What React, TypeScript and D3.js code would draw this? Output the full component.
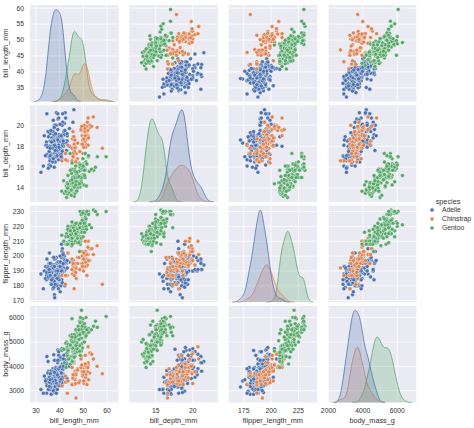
import React, { useEffect, useRef } from 'react';
import * as d3 from 'd3';

// columns of every row: bill_length_mm, bill_depth_mm, flipper_length_mm, body_mass_g
const variables = ['bill_length_mm', 'bill_depth_mm', 'flipper_length_mm', 'body_mass_g'];
const speciesNames = ['Adelie', 'Chinstrap', 'Gentoo'];
const speciesColors = ['#4C72B0', '#DD8452', '#55A868'];

const adelie: number[][] = [
  [39.1,18.7,181,3750],[39.5,17.4,186,3800],[40.3,18,195,3250],[36.7,19.3,193,3450],[39.3,20.6,190,3650],
  [38.9,17.8,181,3625],[39.2,19.6,195,4675],[34.1,18.1,193,3475],[42,20.2,190,4250],[37.8,17.1,186,3300],
  [37.8,17.3,180,3700],[41.1,17.6,182,3200],[38.6,21.2,191,3800],[34.6,21.1,198,4400],[36.6,17.8,185,3700],
  [38.7,19,195,3450],[42.5,20.7,197,4500],[34.4,18.4,184,3325],[46,21.5,194,4200],[37.8,18.3,174,3400],
  [37.7,18.7,180,3600],[35.9,19.2,189,3800],[38.2,18.1,185,3950],[38.8,17.2,180,3800],[35.3,18.9,187,3800],
  [40.6,18.6,183,3550],[40.5,17.9,187,3200],[37.9,18.6,172,3150],[40.5,18.9,180,3950],[39.5,16.7,178,3250],
  [37.2,18.1,178,3900],[39.5,17.8,188,3300],[40.9,18.9,184,3900],[36.4,17,195,3325],[39.2,21.1,196,4150],
  [38.8,20,190,3950],[42.2,18.5,180,3550],[37.6,19.3,181,3300],[39.8,19.1,184,4650],[36.5,18,182,3150],
  [40.8,18.4,195,3900],[36,18.5,186,3100],[44.1,19.7,196,4400],[37,16.9,185,3000],[39.6,18.8,190,4600],
  [41.1,19,182,3425],[37.5,18.9,179,2975],[36,17.9,190,3450],[42.3,21.2,191,4150],[39.6,17.7,186,3500],
  [40.1,18.9,188,4300],[35,17.9,190,3450],[42,19.5,200,4050],[34.5,18.1,187,2900],[41.4,18.6,191,3700],
  [39,17.5,186,3550],[40.6,18.8,193,3800],[36.5,16.6,181,2850],[37.6,19.1,194,3750],[35.7,16.9,185,3150],
  [41.3,21.1,195,4400],[37.6,17,185,3600],[41.1,18.2,192,4050],[36.4,17.1,184,2850],[41.6,18,192,3950],
  [35.5,16.2,195,3350],[41.1,19.1,188,4100],[35.9,16.6,190,3050],[41.8,19.4,198,4450],[33.5,19,190,3600],
  [39.7,18.4,190,3900],[39.6,17.2,196,3550],[45.8,18.9,197,4150],[35.5,17.5,190,3700],[42.8,18.5,195,4250],
  [40.9,16.8,191,3700],[37.2,19.4,184,3900],[36.2,16.1,187,3550],[42.1,19.1,195,4000],[34.6,17.2,189,3200],
  [42.9,17.6,196,4700],[36.7,18.8,187,3800],[35.1,19.4,193,4200],[37.3,17.8,191,3350],[41.3,20.3,194,3550],
  [36.3,19.5,190,3800],[36.9,18.6,189,3500],[38.3,19.2,189,3950],[38.9,18.8,190,3600],[35.7,18,202,3550],
  [41.1,18.1,205,4300],[34,17.1,185,3400],[39.6,18.1,186,4450],[36.2,17.3,187,3300],[40.8,18.9,208,4300],
  [38.1,18.6,190,3700],[40.3,18.5,196,4350],[33.1,16.1,178,2900],[43.2,18.5,192,4100],[35,17.9,192,3725],
  [41,20,203,4725],[37.7,16,183,3075],[37.8,20,190,4250],[37.9,18.6,193,2925],[39.7,18.9,184,3550],
  [38.6,17.2,199,3750],[38.2,20,190,3900],[38.1,17,181,3175],[43.2,19,197,4775],[38.1,16.5,198,3825],
  [45.6,20.3,191,4600],[39.7,17.7,193,3200],[42.2,19.5,197,4275],[39.6,20.7,191,3900],[42.7,18.3,196,4075],
  [38.6,17,188,2900],[37.3,20.5,199,3775],[35.7,17,189,3350],[41.1,18.6,189,3325],[36.2,17.2,187,3150],
  [37.7,19.8,198,3500],[40.2,17,176,3450],[41.4,18.5,202,3875],[35.2,15.9,186,3050],[40.6,19,199,4000],
  [38.8,17.6,191,3275],[41.5,18.3,195,4300],[39,17.1,191,3050],[44.1,18,210,4000],[38.5,17.9,190,3325],
  [43.1,19.2,197,3500],[36.8,18.5,193,3500],[37.5,18.5,199,4475],[38.1,17.6,187,3425],[41.1,17.5,190,3900],
  [35.6,17.5,191,3175],[40.2,20.1,200,3975],[37,16.5,185,3400],[39.7,17.9,193,4250],[40.2,17.1,193,3400],
  [40.6,17.2,187,3475],[32.1,15.5,188,3050],[40.7,17,190,3725],[37.3,16.8,192,3000],[39,18.7,185,3650],
  [39.2,18.6,190,4250],[36.6,18.4,184,3475],[36,17.8,195,3450],[37.8,18.1,193,3750],[36,17.1,187,3700],
  [41.5,18.5,201,4000],
];

const chinstrap: number[][] = [
  [46.5,17.9,192,3500],[50,19.5,196,3900],[51.3,19.2,193,3650],[45.4,18.7,188,3525],[52.7,19.8,197,3725],
  [45.2,17.8,198,3950],[46.1,18.2,178,3250],[51.3,18.2,197,3750],[46,18.9,195,4150],[51.3,19.9,198,3700],
  [46.6,17.8,193,3800],[51.7,20.3,194,3775],[47,17.3,185,3700],[52,18.1,201,4050],[45.9,17.1,190,3575],
  [50.5,19.6,201,4050],[50.3,20,197,3300],[58,17.8,181,3700],[46.4,18.6,190,3450],[49.2,18.2,195,4400],
  [42.4,17.3,181,3600],[48.5,17.5,191,3400],[43.2,16.6,187,2900],[50.6,19.4,193,3800],[46.7,17.9,195,3300],
  [52,19,197,4150],[50.5,18.4,200,3400],[49.5,19,200,3800],[46.4,17.8,191,3700],[52.8,20,205,4550],
  [40.9,16.6,187,3200],[54.2,20.8,201,4300],[42.5,16.7,187,3350],[51,18.8,203,4100],[49.7,18.6,195,3600],
  [47.5,16.8,199,3900],[47.6,18.3,195,3850],[52,20.7,210,4800],[46.9,16.6,192,2700],[53.5,19.9,205,4500],
  [49,19.5,210,3950],[46.2,17.5,187,3650],[50.9,19.1,196,3550],[45.5,17,196,3500],[50.9,17.9,196,3675],
  [50.8,18.5,201,4450],[50.1,17.9,190,3400],[49,19.6,212,4300],[51.5,18.7,187,3250],[49.8,17.3,198,3675],
  [48.1,16.4,199,3325],[51.4,19,201,3950],[45.7,17.3,193,3600],[50.7,19.7,203,4050],[42.5,17.3,187,3350],
  [52.2,18.8,197,3450],[45.2,16.6,191,3250],[49.3,19.9,203,4050],[50.2,18.8,202,3800],[45.6,19.4,194,3525],
  [51.9,19.5,206,3950],[46.8,16.5,189,3650],[45.7,17,195,3650],[55.8,19.8,207,4000],[43.5,18.1,202,3400],
  [49.6,18.2,193,3775],[50.8,19,210,4100],[50.2,18.7,198,3775],
];

const gentoo: number[][] = [
  [46.1,13.2,211,4500],[50,16.3,230,5700],[48.7,14.1,210,4450],[50,15.2,218,5700],[47.6,14.5,215,5400],
  [46.5,13.5,210,4550],[45.4,14.6,211,4800],[46.7,15.3,219,5200],[43.3,13.4,209,4400],[46.8,15.4,215,5150],
  [40.9,13.7,214,4650],[49,16.1,216,5550],[45.5,13.7,214,4650],[48.4,14.6,213,5850],[45.8,14.6,210,4200],
  [49.3,15.7,217,5850],[42,13.5,210,4150],[49.2,15.2,221,6300],[46.2,14.5,209,4800],[48.7,15.1,222,5350],
  [50.2,14.3,218,5700],[45.1,14.5,215,5000],[46.5,14.5,213,4400],[46.3,15.8,215,5050],[42.9,13.1,215,5000],
  [46.1,15.1,215,5100],[44.5,14.3,216,4100],[47.8,15,215,5650],[48.2,14.3,210,4600],[50,15.3,220,5550],
  [47.3,15.3,222,5250],[42.8,14.2,209,4700],[45.1,14.5,207,5050],[59.6,17,230,6050],[49.1,14.8,220,5150],
  [48.4,16.3,220,5400],[42.6,13.7,213,4950],[44.4,17.3,219,5250],[44,13.6,208,4350],[48.7,15.7,208,5350],
  [42.7,13.7,208,3950],[49.6,16,225,5700],[45.3,13.7,210,4300],[49.6,15,216,4750],[50.5,15.9,222,5550],
  [43.6,13.9,217,4900],[45.5,13.9,210,4200],[50.5,15.9,225,5400],[44.9,13.3,213,5100],[45.2,15.8,215,5300],
  [46.6,14.2,210,4850],[48.5,14.1,220,5300],[45.1,14.4,210,4400],[50.1,15,225,5000],[46.5,14.4,217,4900],
  [45,15.4,220,5050],[43.8,13.9,208,4300],[45.5,15,220,5000],[43.2,14.5,208,4450],[50.4,15.3,224,5550],
  [45.3,13.8,208,4200],[46.2,14.9,221,5300],[45.7,13.9,214,4400],[54.3,15.7,231,5650],[45.8,14.2,219,4700],
  [49.8,16.8,230,5700],[46.2,14.4,214,4650],[49.5,16.2,229,5800],[43.5,14.2,220,4700],[50.7,15,223,5550],
  [47.7,15,216,4750],[46.4,15.6,221,5000],[48.2,15.6,221,5100],[46.5,14.8,217,5200],[46.4,15,216,4700],
  [48.6,16,230,5800],[47.5,14.2,209,4600],[51.1,16.3,220,6000],[45.2,13.8,215,4750],[45.2,16.4,223,5950],
  [49.1,14.5,212,4625],[52.5,15.6,221,5450],[47.4,14.6,212,4725],[50,15.9,224,5350],[44.9,13.8,212,4750],
  [50.8,17.3,228,5600],[43.4,14.4,218,4600],[51.3,14.2,218,5300],[47.5,14,212,4875],[52.1,17,230,5550],
  [47.5,15,218,4950],[52.2,17.1,228,5400],[45.5,14.5,212,4750],[49.5,16.1,224,5650],[44.5,14.7,214,4850],
  [50.8,15.7,226,5200],[49.4,15.8,216,4925],[46.9,14.6,222,4875],[48.4,14.4,203,4625],[51.1,16.5,225,5250],
  [48.5,15,219,4850],[55.9,17,228,5600],[47.2,15.5,215,4975],[49.1,15,228,5500],[47.3,13.8,216,4725],
  [46.8,16.1,215,5500],[41.7,14.7,210,4700],[53.4,15.8,219,5500],[43.3,14,208,4575],[48.1,15.1,209,5500],
  [50.5,15.2,216,5000],[49.8,15.9,229,5950],[43.5,15.2,213,4650],[51.5,16.3,230,5500],[46.2,14.1,217,4375],
  [55.1,16,230,5850],[44.5,15.7,217,4875],[48.8,16.2,222,6000],[47.2,13.7,214,4925],[46.8,14.3,215,4850],
  [50.4,15.7,222,5750],[45.2,14.8,212,5200],[49.9,16.1,213,5400],
];

const colTicks = [[30, 40, 50, 60], [15, 20], [175, 200, 225], [2000, 4000, 6000]];
const rowTicks = [
  [35, 40, 45, 50, 55, 60],
  [14, 16, 18, 20],
  [170, 180, 190, 200, 210, 220, 230],
  [3000, 4000, 5000, 6000],
];

const groups = [adelie, chinstrap, gentoo];

function kdeCurve(values: number[], total: number): [number, number][] {
  const n = values.length;
  const bw = (d3.deviation(values) || 1) * Math.pow(n, -0.2);
  const lo = (d3.min(values) as number) - 3 * bw;
  const hi = (d3.max(values) as number) + 3 * bw;
  const norm = 1 / (n * bw * Math.sqrt(2 * Math.PI));
  return d3.range(200).map(i => {
    const x = lo + ((hi - lo) * i) / 199;
    const s = d3.sum(values, v => Math.exp(-0.5 * ((x - v) / bw) ** 2));
    return [x, s * norm * (n / total)] as [number, number];
  });
}

const App: React.FC = () => {
  const svgRef = useRef<SVGSVGElement>(null);

  useEffect(() => {
    if (!svgRef.current) return;
    document.body.style.margin = '0';
    const svg = d3.select(svgRef.current);
    svg.selectAll('*').remove();

    const width = 474;
    const height = 428;
    const left0 = 30;
    const colStep = 99.3;
    const panelW = 88.5;
    const top0 = 5;
    const rowStep = 100.3;
    const panelH = 96.5;
    const font = '"Liberation Sans", Arial, sans-serif';
    const textColor = '#333';
    const total = d3.sum(groups, g => g.length);

    svg.attr('width', width).attr('height', height).attr('viewBox', `0 0 ${width} ${height}`);

    // KDE per variable and species
    const kdes = variables.map((_, v) => groups.map(g => kdeCurve(g.map(r => r[v]), total)));

    // x scales: union of KDE support, 5% padding
    const xScales = variables.map((_, v) => {
      const lo = d3.min(kdes[v], c => c[0][0]) as number;
      const hi = d3.max(kdes[v], c => c[c.length - 1][0]) as number;
      const pad = (hi - lo) * 0.05;
      return d3.scaleLinear().domain([lo - pad, hi + pad]).range([0, panelW]);
    });

    // y scales: data extent, 5% padding
    const yScales = variables.map((_, v) => {
      const all = groups.flatMap(g => g.map(r => r[v]));
      const [lo, hi] = d3.extent(all) as [number, number];
      const pad = (hi - lo) * 0.05;
      return d3.scaleLinear().domain([lo - pad, hi + pad]).range([panelH, 0]);
    });

    variables.forEach((_, i) => {
      variables.forEach((__, j) => {
        const g = svg.append('g')
          .attr('transform', `translate(${left0 + j * colStep},${top0 + i * rowStep})`);
        const x = xScales[j];
        const y = yScales[i];

        g.append('rect')
          .attr('width', panelW)
          .attr('height', panelH)
          .attr('fill', '#EAEAF2');

        g.selectAll('.vgrid')
          .data(colTicks[j])
          .enter()
          .append('line')
          .attr('x1', d => x(d))
          .attr('x2', d => x(d))
          .attr('y1', 0)
          .attr('y2', panelH)
          .attr('stroke', '#fff')
          .attr('stroke-width', 0.8);

        g.selectAll('.hgrid')
          .data(rowTicks[i])
          .enter()
          .append('line')
          .attr('x1', 0)
          .attr('x2', panelW)
          .attr('y1', d => y(d))
          .attr('y2', d => y(d))
          .attr('stroke', '#fff')
          .attr('stroke-width', 0.8);

        if (i === j) {
          const maxD = d3.max(kdes[j], c => d3.max(c, p => p[1])) as number;
          const yd = d3.scaleLinear().domain([0, maxD * 1.05]).range([panelH, 0]);
          const area = d3.area<[number, number]>()
            .x(p => x(p[0]))
            .y0(panelH)
            .y1(p => yd(p[1]));
          const line = d3.line<[number, number]>()
            .x(p => x(p[0]))
            .y(p => yd(p[1]));
          // later species first so Adelie ends on top
          [2, 1, 0].forEach(s => {
            g.append('path')
              .datum(kdes[j][s])
              .attr('d', area)
              .attr('fill', speciesColors[s])
              .attr('fill-opacity', 0.25);
            g.append('path')
              .datum(kdes[j][s])
              .attr('d', line)
              .attr('fill', 'none')
              .attr('stroke', speciesColors[s])
              .attr('stroke-width', 0.8);
          });
        } else {
          groups.forEach((rows, s) => {
            g.selectAll(`.dot${s}`)
              .data(rows)
              .enter()
              .append('circle')
              .attr('cx', r => x(r[j]))
              .attr('cy', r => y(r[i]))
              .attr('r', 2)
              .attr('fill', speciesColors[s])
              .attr('stroke', '#fff')
              .attr('stroke-width', 0.4);
          });
        }

        if (j === 0) {
          g.selectAll('.ytick')
            .data(rowTicks[i])
            .enter()
            .append('text')
            .attr('x', -6)
            .attr('y', d => y(d))
            .attr('dy', '0.35em')
            .attr('text-anchor', 'end')
            .attr('font-family', font)
            .attr('font-size', 6.8)
            .attr('fill', textColor)
            .text(d => String(d));
          svg.append('text')
            .attr('transform', `translate(7.5,${top0 + i * rowStep + panelH / 2}) rotate(-90)`)
            .attr('text-anchor', 'middle')
            .attr('font-family', font)
            .attr('font-size', 7.3)
            .attr('fill', textColor)
            .text(variables[i]);
        }

        if (i === variables.length - 1) {
          g.selectAll('.xtick')
            .data(colTicks[j])
            .enter()
            .append('text')
            .attr('x', d => x(d))
            .attr('y', panelH + 10.5)
            .attr('text-anchor', 'middle')
            .attr('font-family', font)
            .attr('font-size', 6.8)
            .attr('fill', textColor)
            .text(d => String(d));
          svg.append('text')
            .attr('x', left0 + j * colStep + panelW / 2)
            .attr('y', 423)
            .attr('text-anchor', 'middle')
            .attr('font-family', font)
            .attr('font-size', 7.3)
            .attr('fill', textColor)
            .text(variables[j]);
        }
      });
    });

    // Legend
    const legend = svg.append('g').attr('transform', 'translate(432,201)');
    legend.append('text')
      .attr('x', 16)
      .attr('y', 2.5)
      .attr('text-anchor', 'middle')
      .attr('font-family', font)
      .attr('font-size', 7.3)
      .attr('fill', textColor)
      .text('species');
    speciesNames.forEach((name, s) => {
      legend.append('circle')
        .attr('cx', 0)
        .attr('cy', 9 + s * 9)
        .attr('r', 2)
        .attr('fill', speciesColors[s])
        .attr('stroke', '#fff')
        .attr('stroke-width', 0.4);
      legend.append('text')
        .attr('x', 10)
        .attr('y', 9 + s * 9)
        .attr('dy', '0.35em')
        .attr('font-family', font)
        .attr('font-size', 6.8)
        .attr('fill', textColor)
        .text(name);
    });
  }, []);

  return (
    <div>
      <svg ref={svgRef}></svg>
    </div>
  );
};

export default App;
